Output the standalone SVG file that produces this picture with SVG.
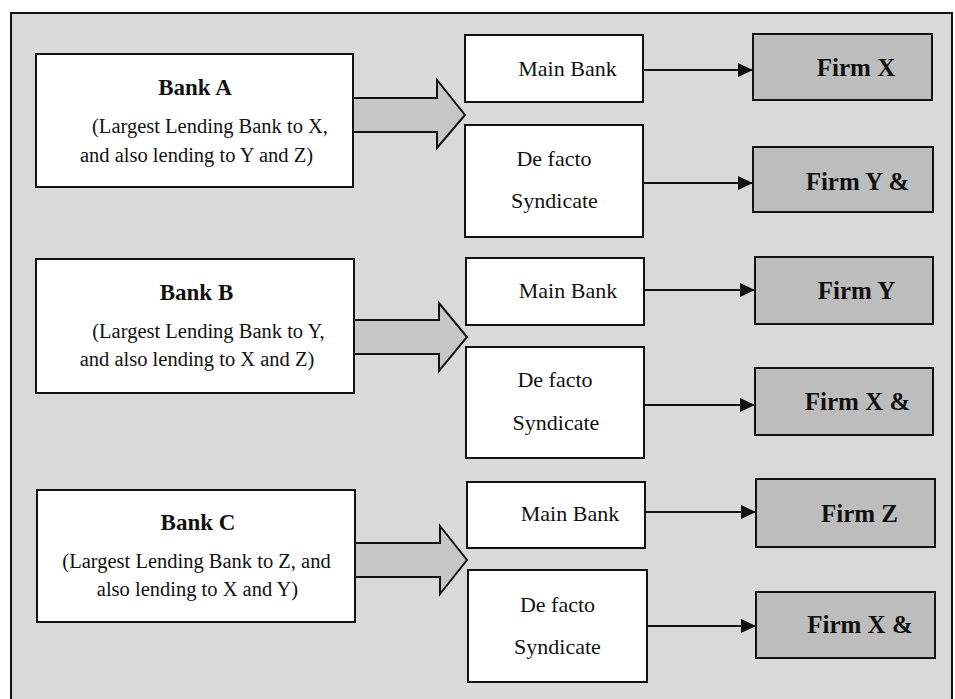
<svg xmlns="http://www.w3.org/2000/svg" width="955" height="699" viewBox="0 0 955 699">
<style>
.bank{fill:#fff;stroke:#111;stroke-width:2}
.mid{fill:#fff;stroke:#111;stroke-width:2}
.firm{fill:#bdbdbd;stroke:#111;stroke-width:2}
.blk{fill:#c6c6c6;stroke:#111;stroke-width:2;stroke-linejoin:miter}
.con{stroke:#111;stroke-width:2.2;fill:none}
text{font-family:"Liberation Serif","Times New Roman",serif;fill:#111;text-anchor:middle}
.t{font-size:23px;font-weight:bold}
.d{font-size:20.5px}
.m{font-size:22px}
.f{font-size:25px;font-weight:bold}
</style>
<defs>
<marker id="ah" markerUnits="userSpaceOnUse" markerWidth="16" markerHeight="16" refX="15" refY="7" orient="auto">
<path d="M0,0 L15,7 L0,14 z" fill="#111"/>
</marker>
</defs>
<rect x="0" y="0" width="955" height="699" fill="#fff"/>
<rect x="11" y="13" width="941" height="700" fill="#d9d9d9" stroke="#111" stroke-width="2"/>

<g id="connectors">
<polygon class="blk" points="353,98 437,98 437,80 465,115 437,148 437,132 353,132"/>
<polygon class="blk" points="354,320 439,320 439,303 467,337 439,371 439,354 354,354"/>
<polygon class="blk" points="355,543 440,543 440,526 467,560 440,594 440,577 355,577"/>
<line class="con" x1="643" y1="70" x2="753" y2="70" marker-end="url(#ah)"/>
<line class="con" x1="643" y1="183" x2="753" y2="183" marker-end="url(#ah)"/>
<line class="con" x1="644" y1="290" x2="755" y2="290" marker-end="url(#ah)"/>
<line class="con" x1="644" y1="405" x2="755" y2="405" marker-end="url(#ah)"/>
<line class="con" x1="645" y1="512" x2="756" y2="512" marker-end="url(#ah)"/>
<line class="con" x1="647" y1="626" x2="756" y2="626" marker-end="url(#ah)"/>
</g>

<g id="bankA">
<rect class="bank" x="36" y="54" width="317" height="133"/>
<text class="t" x="195" y="95">Bank A</text>
<text class="d" x="210" y="133">(Largest Lending Bank to X,</text>
<text class="d" x="196.5" y="162">and also lending to Y and Z)</text>
</g>
<g id="bankB">
<rect class="bank" x="36" y="259" width="318" height="134"/>
<text class="t" x="196.5" y="300">Bank B</text>
<text class="d" x="208.5" y="338">(Largest Lending Bank to Y,</text>
<text class="d" x="197" y="366">and also lending to X and Z)</text>
</g>
<g id="bankC">
<rect class="bank" x="37" y="490" width="318" height="132"/>
<text class="t" x="198" y="530">Bank C</text>
<text class="d" x="196.5" y="568">(Largest Lending Bank to Z, and</text>
<text class="d" x="197.5" y="596">also lending to X and Y)</text>
</g>

<g id="mainBankA">
<rect class="mid" x="465" y="35" width="178" height="67"/>
<text class="m" x="567.5" y="76">Main Bank</text>
</g>
<g id="syndicateA">
<rect class="mid" x="465" y="125" width="178" height="112"/>
<text class="m" x="554" y="166">De facto</text>
<text class="m" x="554.5" y="208">Syndicate</text>
</g>
<g id="firmX">
<rect class="firm" x="753" y="34" width="179" height="66"/>
<text class="f" x="856" y="76">Firm X</text>
</g>
<g id="firmYandA">
<rect class="firm" x="753" y="147" width="180" height="65"/>
<text class="f" x="857.5" y="190">Firm Y &amp;</text>
</g>

<g id="mainBankB">
<rect class="mid" x="466" y="258" width="178" height="67"/>
<text class="m" x="568" y="298">Main Bank</text>
</g>
<g id="syndicateB">
<rect class="mid" x="466" y="347" width="178" height="111"/>
<text class="m" x="555" y="387">De facto</text>
<text class="m" x="556" y="430">Syndicate</text>
</g>
<g id="firmY">
<rect class="firm" x="755" y="257" width="178" height="67"/>
<text class="f" x="856.5" y="299">Firm Y</text>
</g>
<g id="firmXandB">
<rect class="firm" x="755" y="368" width="178" height="67"/>
<text class="f" x="857.5" y="410">Firm X &amp;</text>
</g>

<g id="mainBankC">
<rect class="mid" x="467" y="482" width="178" height="66"/>
<text class="m" x="570" y="521">Main Bank</text>
</g>
<g id="syndicateC">
<rect class="mid" x="468" y="570" width="179" height="112"/>
<text class="m" x="557.5" y="612">De facto</text>
<text class="m" x="557.5" y="654">Syndicate</text>
</g>
<g id="firmZ">
<rect class="firm" x="756" y="479" width="179" height="68"/>
<text class="f" x="859.5" y="522">Firm Z</text>
</g>
<g id="firmXandC">
<rect class="firm" x="756" y="592" width="179" height="66"/>
<text class="f" x="860" y="633">Firm X &amp;</text>
</g>
</svg>
